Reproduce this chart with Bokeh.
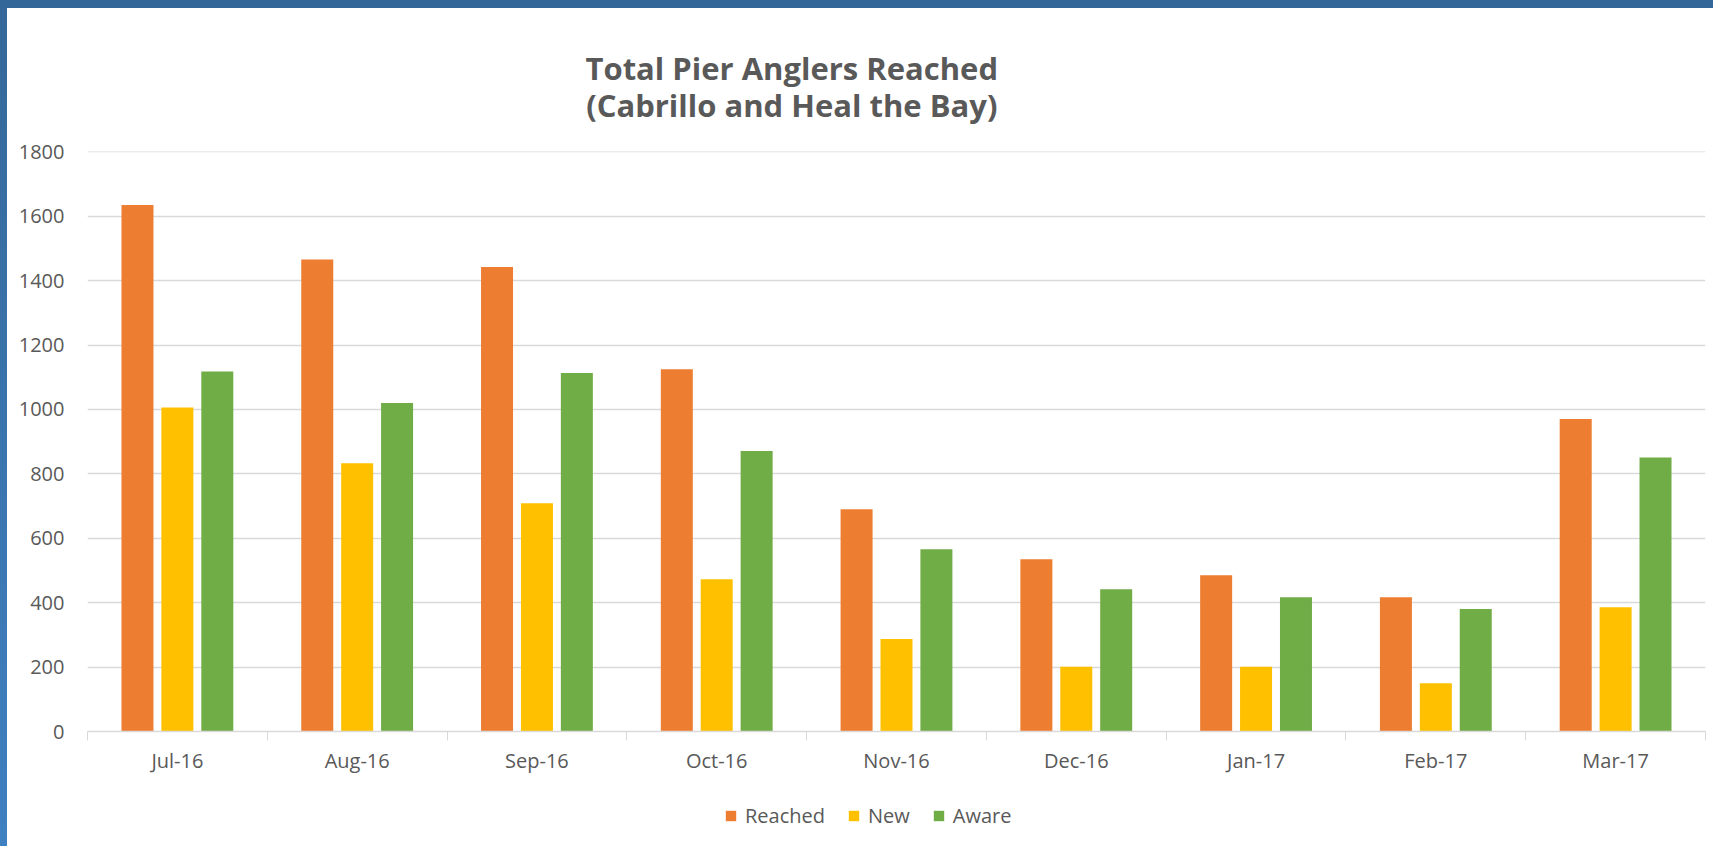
from bokeh.plotting import figure
from bokeh.models import (Range1d, FixedTicker, Legend, LegendItem, Title, Spacer)
from bokeh.layouts import column, row
from bokeh.embed import file_html
from bokeh.resources import INLINE

# ---- data ----
months = ["Jul-16", "Aug-16", "Sep-16", "Oct-16", "Nov-16", "Dec-16", "Jan-17", "Feb-17", "Mar-17"]
reached = [1635, 1466, 1442, 1125, 690, 535, 485, 417, 970]
new = [1006, 833, 709, 473, 287, 201, 201, 150, 386]
aware = [1118, 1020, 1113, 871, 566, 442, 417, 380, 851]
series_names = ["Reached", "New", "Aware"]
series_colors = ["#ED7D31", "#FFC000", "#70AD47"]
y_ticks = [0, 200, 400, 600, 800, 1000, 1200, 1400, 1600, 1800]
title_text = "Total Pier Anglers Reached\n(Cabrillo and Heal the Bay)"

FONT = "Open Sans"
TXT = "#595959"
GRID = "#d9d9d9"

n = len(months)
p = figure(width=1706, height=782, output_backend="svg", toolbar_location=None,
           x_range=Range1d(0, n), y_range=Range1d(0, 1801),
           min_border_left=80, min_border_right=8, min_border_top=143, min_border_bottom=59)
p.outline_line_color = None
p.background_fill_color = "white"
p.border_fill_color = "white"

centers = [i + 0.5 for i in range(n)]
offsets = [-0.222, 0.0, 0.222]
bar_w = 0.178
for vals, off, col in zip([reached, new, aware], offsets, series_colors):
    p.vbar(x=[c + off for c in centers], top=vals, width=bar_w, bottom=0,
           fill_color=col, line_color=None)

# axes
xa = p.xaxis[0]
xa.ticker = FixedTicker(ticks=centers, minor_ticks=list(range(n + 1)))
xa.major_label_overrides = {c: m for c, m in zip(centers, months)}
xa.major_tick_out = 0
xa.major_tick_in = 0
xa.minor_tick_out = 9
xa.minor_tick_in = 0
xa.minor_tick_line_color = GRID
xa.axis_line_color = GRID
xa.axis_line_width = 1.5
xa.major_label_standoff = 6
xa.major_label_text_font = FONT
xa.major_label_text_font_size = "20px"
xa.major_label_text_color = TXT

ya = p.yaxis[0]
ya.ticker = FixedTicker(ticks=y_ticks)
ya.axis_line_color = None
ya.major_tick_line_color = None
ya.minor_tick_line_color = None
ya.major_label_standoff = 17
ya.major_label_text_font = FONT
ya.major_label_text_font_size = "20px"
ya.major_label_text_color = TXT

p.xgrid.grid_line_color = None
p.ygrid.grid_line_color = GRID
p.ygrid.grid_line_width = 1.5

# title
p.title = Title(text=title_text, align="left", offset=498, standoff=50,
                text_font=FONT, text_font_style="bold", text_font_size="31px",
                text_color=TXT, text_line_height=0.9, text_align="center")

# legend strip (separate small figure below the chart)
lf = figure(width=1706, height=56, output_backend="svg", toolbar_location=None,
            x_range=Range1d(0, 1), y_range=Range1d(0, 1),
            min_border=0, min_border_left=0, min_border_right=0,
            min_border_top=0, min_border_bottom=0)
lf.axis.visible = False
lf.grid.visible = False
lf.outline_line_color = None
lf.border_fill_color = "white"
lf.background_fill_color = "white"
items = []
for nm, col in zip(series_names, series_colors):
    # zero-height swatch renderer: only used for its legend glyph
    r = lf.vbar(x=[0.5], top=[0], bottom=[0], width=0.0001, fill_color=col, line_color=None)
    items.append(LegendItem(label=nm, renderers=[r]))
legend = Legend(items=items, orientation="horizontal", location=(637, 17),
                glyph_width=13, glyph_height=13, label_standoff=8, spacing=22,
                padding=0, margin=0, border_line_color=None, background_fill_alpha=0,
                label_text_font=FONT, label_text_font_size="20px", label_text_color=TXT)
lf.add_layout(legend, "center")

top_strip = Spacer(width=1713, height=8, styles={"background-color": "#346799"})
left_strip = Spacer(width=7, height=838,
                    styles={"background": "linear-gradient(#356899, #3f80c1)"})
layout = column(top_strip, row(left_strip, column(p, lf, spacing=0), spacing=0), spacing=0)

open("out.html", "w").write(file_html(layout, INLINE))
